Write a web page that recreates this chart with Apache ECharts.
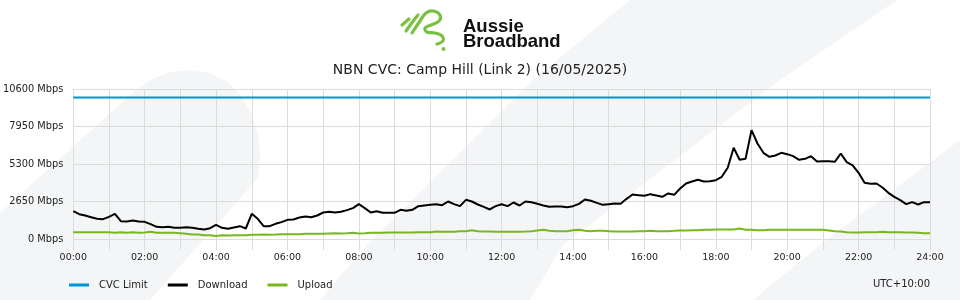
<!DOCTYPE html>
<html><head><meta charset="utf-8">
<script src="https://cdn.jsdelivr.net/npm/echarts@6/dist/echarts.min.js"></script>
<style>html,body{margin:0;padding:0;background:#fff}#c{width:960px;height:300px}</style>
</head><body><div id="c"></div>
<script>
// ---- data ----
const chartTitle = 'NBN CVC: Camp Hill (Link 2) (16/05/2025)';
const seriesNames = ['CVC Limit', 'Download', 'Upload'];
const yTicks = [0, 2650, 5300, 7950, 10600];
const xTickLabels = ['00:00','02:00','04:00','06:00','08:00','10:00','12:00','14:00','16:00','18:00','20:00','22:00','24:00'];
const cvcLimit = 10000;
// samples every 10 minutes from 00:00 to 24:00 (Mbps)
const download = [
 1967,1755,1661,1543,1425,1402,1567,1779,1260,1237,1308,1237,
 1213,1048,860,836,860,789,789,836,789,718,671,766,
 1001,789,718,813,907,742,1779,1425,907,907,1072,1190,
 1355,1378,1520,1590,1543,1661,1873,1920,1873,1920,2038,2179,
 2462,2179,1873,1967,1849,1849,1849,2062,1991,2062,2321,2368,
 2415,2462,2391,2651,2462,2321,2768,2651,2438,2274,2085,2321,
 2450,2321,2580,2368,2651,2603,2486,2368,2274,2297,2297,2250,
 2321,2486,2792,2698,2556,2415,2462,2509,2486,2839,3145,3098,
 3051,3169,3075,2980,3216,3122,3569,3923,4064,4182,4064,4088,
 4158,4394,5030,6450,5600,5666,7692,6750,6090,5808,5900,6090,
 5996,5855,5596,5666,5855,5478,5501,5501,5454,6043,5430,5200,
 4677,3970,3900,3923,3640,3263,2980,2745,2462,2603,2438,2603,
 2603];
const upload = [
 483,483,483,483,483,483,483,436,483,436,483,436,
 459,506,436,436,436,436,412,365,318,318,271,271,
 220,271,248,271,271,271,295,295,318,295,318,342,
 342,342,342,365,365,365,365,389,412,389,412,436,
 389,412,436,436,436,459,459,459,459,459,483,483,
 483,530,506,506,506,553,553,624,553,530,530,506,
 507,507,507,507,530,554,601,648,577,554,554,554,
 624,648,577,554,577,577,554,530,530,530,530,554,
 554,577,554,554,554,577,601,601,624,624,648,648,
 671,671,671,671,742,648,648,624,624,648,648,648,
 648,648,648,648,648,648,648,601,554,530,483,459,
 459,483,483,483,507,483,483,483,459,459,436,412,
 412];
const timezoneLabel = 'UTC+10:00';
// ------------------------------------------------

const hours = download.map((_, i) => i / 6);
const FONT = 'DejaVu Sans';
const GRID = '#dcdcdc';
const BG = '#f4f5f7';
const LOGO = '#7ac143';
const chart = echarts.init(document.getElementById('c'), null, {renderer: 'canvas'});

const logoStroke = {stroke: LOGO, lineWidth: 3.2, fill: null, lineCap: 'round', lineJoin: 'round'};

chart.setOption({
  animation: false,
  backgroundColor: '#ffffff',
  textStyle: {fontFamily: FONT},
  grid: {left: 70, right: 30, top: 89, bottom: 61, containLabel: false},
  graphic: [
    {type: 'polygon', z: -10, silent: true, shape: {points: [[0,213],[130,95],[150,80],[170,72],[190,70],[210,73],[228,82],[242,97],[252,115],[258,135],[260,155],[258,178],[150,300],[0,300]]}, style: {fill: BG}},
    {type: 'polygon', z: -10, silent: true, shape: {points: [[630,0],[897,0],[780,80],[563,245],[530,300],[320,300],[367,245],[533,80]]}, style: {fill: BG}},
    {type: 'polygon', z: -10, silent: true, shape: {points: [[960,140],[820,245],[753,300],[960,300]]}, style: {fill: BG}},
    {type: 'polyline', silent: true, shape: {points: [[402,25],[409,19]]}, style: logoStroke},
    {type: 'polyline', silent: true, shape: {points: [[406,31],[414,20],[418,15]], smooth: 0.4}, style: logoStroke},
    {type: 'polyline', silent: true, shape: {points: [[412,33],[420,21],[426,13],[433,11],[440,15],[439,21],[431,25],[425,28],[427,32],[435,33],[442,36],[443,41],[437,44]], smooth: 0.4}, style: logoStroke},
    {type: 'circle', silent: true, shape: {cx: 443.5, cy: 49, r: 2}, style: {fill: LOGO}},
    {type: 'text', silent: true, style: {text: 'Aussie', x: 463, y: 26.5, verticalAlign: 'middle', font: 'bold 18.5px "Liberation Sans", Arial, sans-serif', fill: '#111'}},
    {type: 'text', silent: true, style: {text: 'Broadband', x: 463, y: 42, verticalAlign: 'middle', font: 'bold 18.5px "Liberation Sans", Arial, sans-serif', fill: '#111'}},
    {type: 'text', silent: true, style: {text: chartTitle, x: 480, y: 70.5, align: 'center', verticalAlign: 'middle', font: '14px "DejaVu Sans"', fill: '#222'}},
    {type: 'text', silent: true, style: {text: timezoneLabel, x: 930, y: 284.5, align: 'right', verticalAlign: 'middle', font: '10px "DejaVu Sans"', fill: '#222'}}
  ],
  legend: {
    data: seriesNames, left: 64, top: 275, icon: 'rect', itemWidth: 20, itemHeight: 3, itemGap: 20,
    textStyle: {fontFamily: FONT, fontSize: 10, color: '#222', padding: [0, 0, 0, 5]}
  },
  xAxis: {
    type: 'value', min: 0, max: 24, interval: 1,
    axisLine: {show: true, lineStyle: {color: GRID}},
    axisTick: {show: true, length: 11, lineStyle: {color: GRID}},
    splitLine: {show: true, lineStyle: {color: GRID}},
    axisLabel: {
      margin: 14, fontFamily: FONT, fontSize: 9.5, color: '#222', showMinLabel: true, showMaxLabel: true,
      formatter: v => (v % 2 === 0 ? xTickLabels[v / 2] : '')
    }
  },
  yAxis: {
    type: 'value', min: yTicks[0], max: yTicks[yTicks.length - 1], interval: yTicks[1] - yTicks[0],
    axisLine: {show: false}, axisTick: {show: false},
    splitLine: {show: true, lineStyle: {color: GRID}},
    axisLabel: {margin: 10, fontFamily: FONT, fontSize: 9.8, color: '#222', formatter: v => v + ' Mbps'}
  },
  series: [
    {name: seriesNames[0], type: 'line', showSymbol: false, color: '#0096d6', lineStyle: {width: 2},
     data: [[hours[0], cvcLimit], [hours[hours.length - 1], cvcLimit]]},
    {name: seriesNames[1], type: 'line', showSymbol: false, color: '#000000', lineStyle: {width: 2},
     data: hours.map((h, i) => [h, download[i]])},
    {name: seriesNames[2], type: 'line', showSymbol: false, color: '#78b81e', lineStyle: {width: 2},
     data: hours.map((h, i) => [h, upload[i]])}
  ]
});
</script></body></html>
